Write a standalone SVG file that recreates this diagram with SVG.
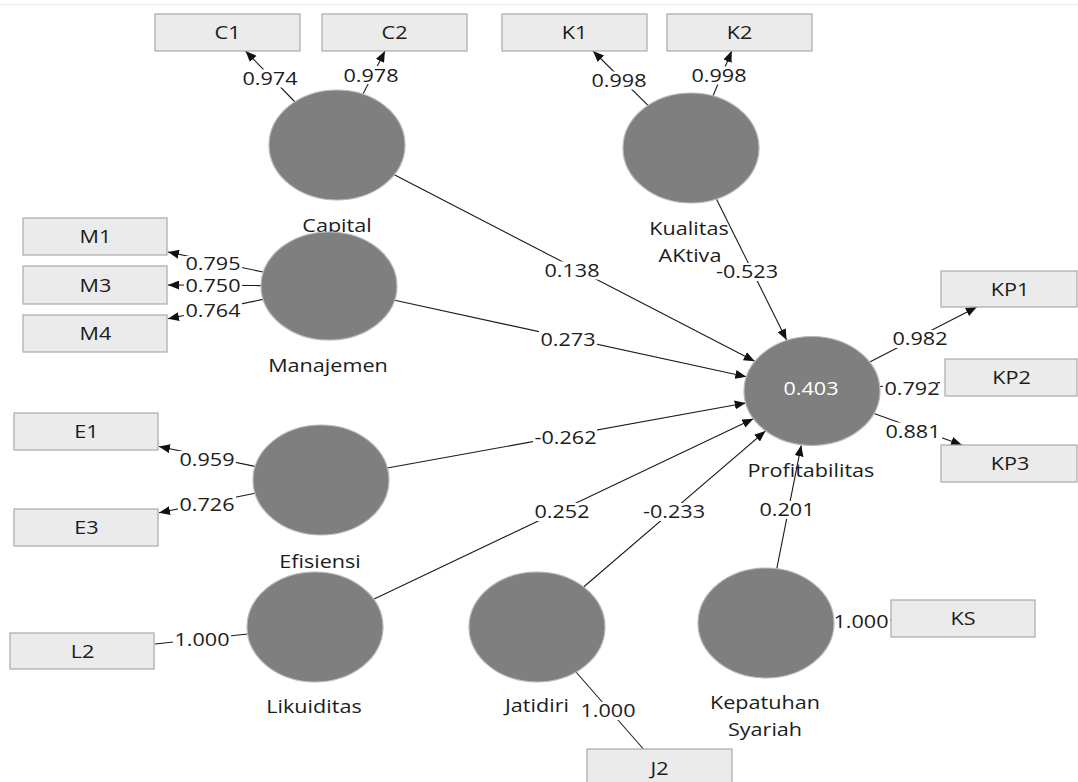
<svg xmlns="http://www.w3.org/2000/svg" width="1078" height="782" viewBox="0 0 1078 782">
<style>
.t{font-family:"Open Sans","Liberation Sans",sans-serif;font-size:18px;fill:#1c1c1c;text-anchor:middle}
.ln{stroke:#1a1a1a;stroke-width:1.1;fill:none}
.ar{marker-end:url(#ah)}
.lv{fill:#7f7f7f;stroke:#b8b8b8;stroke-width:1.2}
.bx{fill:#ebebeb;stroke:#a9a9a9;stroke-width:1.2}
.bg{fill:#fff}
</style>
<defs>
<marker id="ah" markerWidth="11" markerHeight="9" refX="11" refY="4.5" orient="auto" markerUnits="userSpaceOnUse"><path d="M0,0 L11,4.5 L0,9 z" fill="#111"/></marker>
</defs>
<rect width="1078" height="782" fill="#fff"/>
<line x1="0" y1="4.5" x2="1078" y2="4.5" stroke="#e8e8e8" stroke-width="1"/>
<g id="connectors">
<line class="ln ar" x1="295" y1="102" x2="245.5" y2="51"/>
<line class="ln ar" x1="363" y1="94" x2="385" y2="51"/>
<line class="ln ar" x1="648" y1="105.4" x2="593" y2="51"/>
<line class="ln ar" x1="713" y1="96" x2="731.7" y2="51"/>
<line class="ln ar" x1="263" y1="272" x2="168" y2="252"/>
<line class="ln ar" x1="261" y1="285.6" x2="168" y2="285"/>
<line class="ln ar" x1="263" y1="299.4" x2="168" y2="318.8"/>
<line class="ln ar" x1="255" y1="466.4" x2="159" y2="446.5"/>
<line class="ln ar" x1="255" y1="493.3" x2="159" y2="512.8"/>
<line class="ln ar" x1="869.7" y1="362" x2="976.8" y2="307"/>
<line class="ln ar" x1="874" y1="413.4" x2="962" y2="445"/>
<line class="ln" x1="247.6" y1="634" x2="155" y2="644"/>
<line class="ln" x1="576" y1="672" x2="643.4" y2="749"/>
<line class="ln" x1="834" y1="621.5" x2="891" y2="620"/>
<line class="ln" x1="880" y1="386.5" x2="940" y2="382.6"/>
<line class="ln ar" x1="394.3" y1="174.7" x2="754.7" y2="361.3"/>
<line class="ln ar" x1="716.4" y1="199" x2="786.6" y2="340"/>
<line class="ln ar" x1="394.7" y1="300.3" x2="746.3" y2="376.7"/>
<line class="ln ar" x1="387.3" y1="468" x2="745.7" y2="403"/>
<line class="ln ar" x1="373.6" y1="599.2" x2="753.4" y2="418.8"/>
<line class="ln ar" x1="583.6" y1="587" x2="765.4" y2="431"/>
<line class="ln ar" x1="776.8" y1="568.7" x2="801.2" y2="445.3"/>
<g id="path-labels">
<rect class="bg" x="241" y="69.5" width="58" height="18"/><text class="t" transform="translate(270 85) scale(1.2 1)">0.974</text>
<rect class="bg" x="342" y="66" width="58" height="18"/><text class="t" transform="translate(371 81.5) scale(1.2 1)">0.978</text>
<rect class="bg" x="590" y="71.5" width="58" height="18"/><text class="t" transform="translate(619 87) scale(1.2 1)">0.998</text>
<rect class="bg" x="690" y="66.5" width="58" height="18"/><text class="t" transform="translate(719 82) scale(1.2 1)">0.998</text>
<rect class="bg" x="184" y="256" width="58" height="16"/><text class="t" transform="translate(213 269.5) scale(1.2 1)">0.795</text>
<rect class="bg" x="184" y="277" width="58" height="18"/><text class="t" transform="translate(213 292.3) scale(1.2 1)">0.750</text>
<rect class="bg" x="184" y="302" width="58" height="18"/><text class="t" transform="translate(213 317) scale(1.2 1)">0.764</text>
<rect class="bg" x="178" y="451" width="58" height="18"/><text class="t" transform="translate(207 466) scale(1.2 1)">0.959</text>
<rect class="bg" x="178" y="495.5" width="58" height="18"/><text class="t" transform="translate(207 510.7) scale(1.2 1)">0.726</text>
<rect class="bg" x="173" y="631" width="58" height="18"/><text class="t" transform="translate(202 646) scale(1.2 1)">1.000</text>
<rect class="bg" x="579" y="702" width="58" height="18"/><text class="t" transform="translate(608 717.3) scale(1.2 1)">1.000</text>
<rect class="bg" x="833" y="613" width="57" height="18"/><text class="t" transform="translate(861 628.3) scale(1.2 1)">1.000</text>
<rect class="bg" x="891" y="330" width="58" height="18"/><text class="t" transform="translate(920 345) scale(1.2 1)">0.982</text>
<rect class="bg" x="883" y="380" width="54" height="18"/><text class="t" transform="translate(912 395) scale(1.2 1)">0.792</text>
<rect class="bg" x="884" y="422.5" width="58" height="18"/><text class="t" transform="translate(913 437.7) scale(1.2 1)">0.881</text>
<rect class="bg" x="543" y="261.5" width="58" height="18"/><text class="t" transform="translate(572 276.7) scale(1.2 1)">0.138</text>
<rect class="bg" x="715" y="263" width="64" height="18"/><text class="t" transform="translate(747 278.3) scale(1.2 1)">-0.523</text>
<rect class="bg" x="539" y="330.5" width="58" height="18"/><text class="t" transform="translate(568 345.7) scale(1.2 1)">0.273</text>
<rect class="bg" x="533" y="429" width="64" height="18"/><text class="t" transform="translate(565.5 444) scale(1.2 1)">-0.262</text>
<rect class="bg" x="533" y="503" width="58" height="18"/><text class="t" transform="translate(562 518.3) scale(1.2 1)">0.252</text>
<rect class="bg" x="642" y="503" width="64" height="18"/><text class="t" transform="translate(674 518.3) scale(1.2 1)">-0.233</text>
<rect class="bg" x="758" y="501" width="58" height="18"/><text class="t" transform="translate(787 516) scale(1.2 1)">0.201</text>
</g>
</g>
<g id="capital"><text class="t" transform="translate(337 231.5) scale(1.2 1)">Capital</text><ellipse class="lv" cx="337" cy="145" rx="68" ry="55"/></g>
<g id="kualitas-aktiva"><ellipse class="lv" cx="691" cy="148" rx="68" ry="55"/><text class="t" transform="translate(689 235) scale(1.2 1)">Kualitas</text><text class="t" transform="translate(690 261.7) scale(1.2 1)">AKtiva</text></g>
<g id="manajemen"><ellipse class="lv" cx="329" cy="286" rx="68" ry="54"/><text class="t" transform="translate(328 371.7) scale(1.2 1)">Manajemen</text></g>
<g id="efisiensi"><ellipse class="lv" cx="321" cy="480" rx="68" ry="55"/><text class="t" transform="translate(320 567.7) scale(1.2 1)">Efisiensi</text></g>
<g id="likuiditas"><ellipse class="lv" cx="315" cy="627" rx="68" ry="55"/><text class="t" transform="translate(314 712.5) scale(1.2 1)">Likuiditas</text></g>
<g id="jatidiri"><ellipse class="lv" cx="537" cy="627" rx="68" ry="55"/><text class="t" transform="translate(537 712) scale(1.2 1)">Jatidiri</text></g>
<g id="kepatuhan-syariah"><ellipse class="lv" cx="766" cy="623" rx="68" ry="55"/><text class="t" transform="translate(765 709.3) scale(1.2 1)">Kepatuhan</text><text class="t" transform="translate(765 736) scale(1.2 1)">Syariah</text></g>
<g id="profitabilitas"><ellipse class="lv" cx="812" cy="391" rx="68" ry="54.5"/><text class="t" transform="translate(811 395) scale(1.2 1)" style="fill:#fff">0.403</text><text class="t" transform="translate(811 476.7) scale(1.2 1)">Profitabilitas</text></g>
<g id="C1"><rect class="bx" x="155" y="14" width="145" height="37"/><text class="t" transform="translate(227.5 39) scale(1.2 1)">C1</text></g>
<g id="C2"><rect class="bx" x="322" y="14" width="145" height="37"/><text class="t" transform="translate(394.5 39) scale(1.2 1)">C2</text></g>
<g id="K1"><rect class="bx" x="502" y="14" width="145" height="37"/><text class="t" transform="translate(574.5 39) scale(1.2 1)">K1</text></g>
<g id="K2"><rect class="bx" x="667" y="14" width="145" height="37"/><text class="t" transform="translate(739.5 39) scale(1.2 1)">K2</text></g>
<g id="M1"><rect class="bx" x="23" y="218" width="144" height="37"/><text class="t" transform="translate(95.5 243) scale(1.2 1)">M1</text></g>
<g id="M3"><rect class="bx" x="23" y="266" width="144" height="38"/><text class="t" transform="translate(95.5 291.5) scale(1.2 1)">M3</text></g>
<g id="M4"><rect class="bx" x="23" y="315" width="144" height="37"/><text class="t" transform="translate(95.5 340) scale(1.2 1)">M4</text></g>
<g id="E1"><rect class="bx" x="14" y="413" width="144" height="37"/><text class="t" transform="translate(86.5 438) scale(1.2 1)">E1</text></g>
<g id="E3"><rect class="bx" x="14" y="509" width="144" height="37"/><text class="t" transform="translate(86.5 534) scale(1.2 1)">E3</text></g>
<g id="L2"><rect class="bx" x="10" y="633" width="144" height="36"/><text class="t" transform="translate(82.5 658) scale(1.2 1)">L2</text></g>
<g id="J2"><rect class="bx" x="587" y="749" width="145" height="40"/><text class="t" transform="translate(659.5 775) scale(1.2 1)">J2</text></g>
<g id="KS"><rect class="bx" x="891" y="600" width="144" height="37"/><text class="t" transform="translate(963 625) scale(1.2 1)">KS</text></g>
<g id="KP1"><rect class="bx" x="941" y="271" width="136" height="36"/><text class="t" transform="translate(1010 295.5) scale(1.2 1)">KP1</text></g>
<g id="KP2"><rect class="bx" x="945" y="359" width="132" height="37"/><text class="t" transform="translate(1011.5 384) scale(1.2 1)">KP2</text></g>
<g id="KP3"><rect class="bx" x="941" y="445" width="136" height="37"/><text class="t" transform="translate(1010 470) scale(1.2 1)">KP3</text></g>
</svg>
